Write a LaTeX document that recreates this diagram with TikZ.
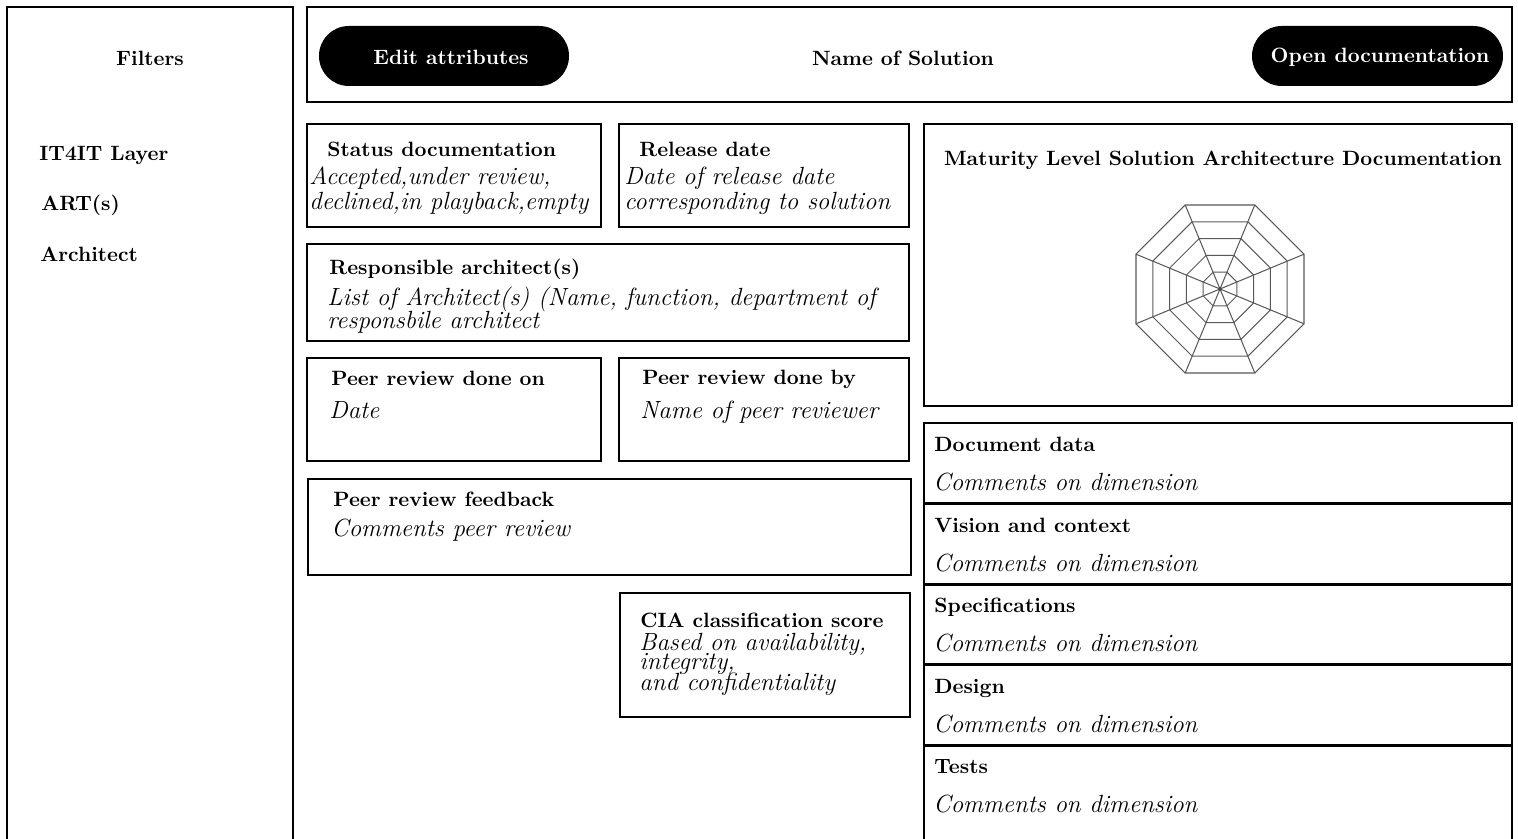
\documentclass[tikz,border=0pt]{standalone}
\usetikzlibrary{calc}
\begin{document}
\begin{tikzpicture}[x=0.483pt,y=-0.483pt,
  panel/.style={draw=black, line width=1pt},
  pill/.style={fill=black, rounded corners=14.4pt},
  pilltext/.style={font=\bfseries, text=white, inner sep=0pt},
  head/.style={font=\bfseries, inner sep=0pt, anchor=base west},
  centred/.style={font=\bfseries, inner sep=0pt, anchor=base},
  note/.style={font=\fontsize{12}{14}\selectfont\itshape, inner sep=0pt, anchor=base west},
  web/.style={draw=black!65, line width=0.5pt}]
\useasboundingbox (0,0) rectangle (1518,839);
\clip (0,0) rectangle (1518,839);

% filter column
\draw[panel] (7,7) rectangle (293,900);
\node[centred] (filters) at (150,66) {Filters};
\node[head] (layer) at (39,161) {IT4IT Layer};
\node[head] (art) at (41,211) {ART(s)};
\node[head] (arch) at (40,262) {Architect};

% header bar
\draw[panel] (307,7) rectangle (1512,102);
\fill[pill] (319,26) rectangle (569,86);
\node[pilltext] (edit) at (451,57) {Edit attributes};
\fill[pill] (1252,26) rectangle (1503,86);
\node[pilltext] (open) at (1380,57) {Open documentation};
\node[centred] (name) at (903,66) {Name of Solution};

% status and release
\draw[panel] (307,124) rectangle (601,227);
\node[head] (status) at (327,157) {Status documentation};
\node[note] (status1) at (309,185) {Accepted,under review,};
\node[note] (status2) at (309,210) {declined,in playback,empty};

\draw[panel] (619,124) rectangle (909,227);
\node[head] (release) at (639,157) {Release date};
\node[note] (release1) at (624,185) {Date of release date};
\node[note] (release2) at (624,210) {corresponding to solution};

% responsible architects
\draw[panel] (307,244) rectangle (909,341);
\node[head] (resp) at (329,275) {Responsible architect(s)};
\node[note] (resp1) at (327,306) {List of Architect(s) (Name, function, department of};
\node[note] (resp2) at (327,329) {responsbile architect};

% peer review
\draw[panel] (307,358) rectangle (601,461);
\node[head] (pron) at (331,386) {Peer review done on};
\node[note] (prdate) at (329,419) {Date};

\draw[panel] (619,358) rectangle (909,461);
\node[head] (prby) at (642,385) {Peer review done by};
\node[note] (prname) at (640,419) {Name of peer reviewer};

\draw[panel] (308,479) rectangle (911,575);
\node[head] (feedback) at (333,507) {Peer review feedback};
\node[note] (feedback1) at (331,537) {Comments peer review};

% CIA score
\draw[panel] (620,593) rectangle (910,717);
\node[head] (cia) at (640,628) {CIA classification score};
\node[note] (cia1) at (639,651) {Based on availability,};
\node[note] (cia2) at (639,670) {integrity,};
\node[note] (cia3) at (639,691) {and confidentiality};

% maturity web
\draw[panel] (924,124) rectangle (1512,406);
\node[centred] (maturity) at (1223,166) {Maturity Level Solution Architecture Documentation};
\coordinate (hub) at (1220,289);
\foreach \k in {1,...,5}{
  \draw[web] ($(hub)+(22.5:{\k*18.184})$)
    \foreach \a in {67.5,112.5,...,337.5}{ -- ($(hub)+(\a:{\k*18.184})$) } -- cycle;
}
\foreach \a in {22.5,67.5,...,337.5}{
  \draw[web] (hub) -- ($(hub)+(\a:90.92)$);
}
\fill[black!70] (hub) circle (2);

% dimension comments
\foreach \t/\lbl [count=\i from 0] in {423/Document data,504/Vision and context,584/Specifications,665/Design,745/Tests}{
  \pgfmathsetmacro{\bot}{\i==4 ? 900 : (\t+80.5)}
  \draw[panel] (924,\t) rectangle (1512,\bot);
  \node[head] (dim\i) at (934,\t+29) {\lbl};
  \node[note] (dimnote\i) at (933,\t+68) {Comments on dimension};
}
\end{tikzpicture}
\end{document}
